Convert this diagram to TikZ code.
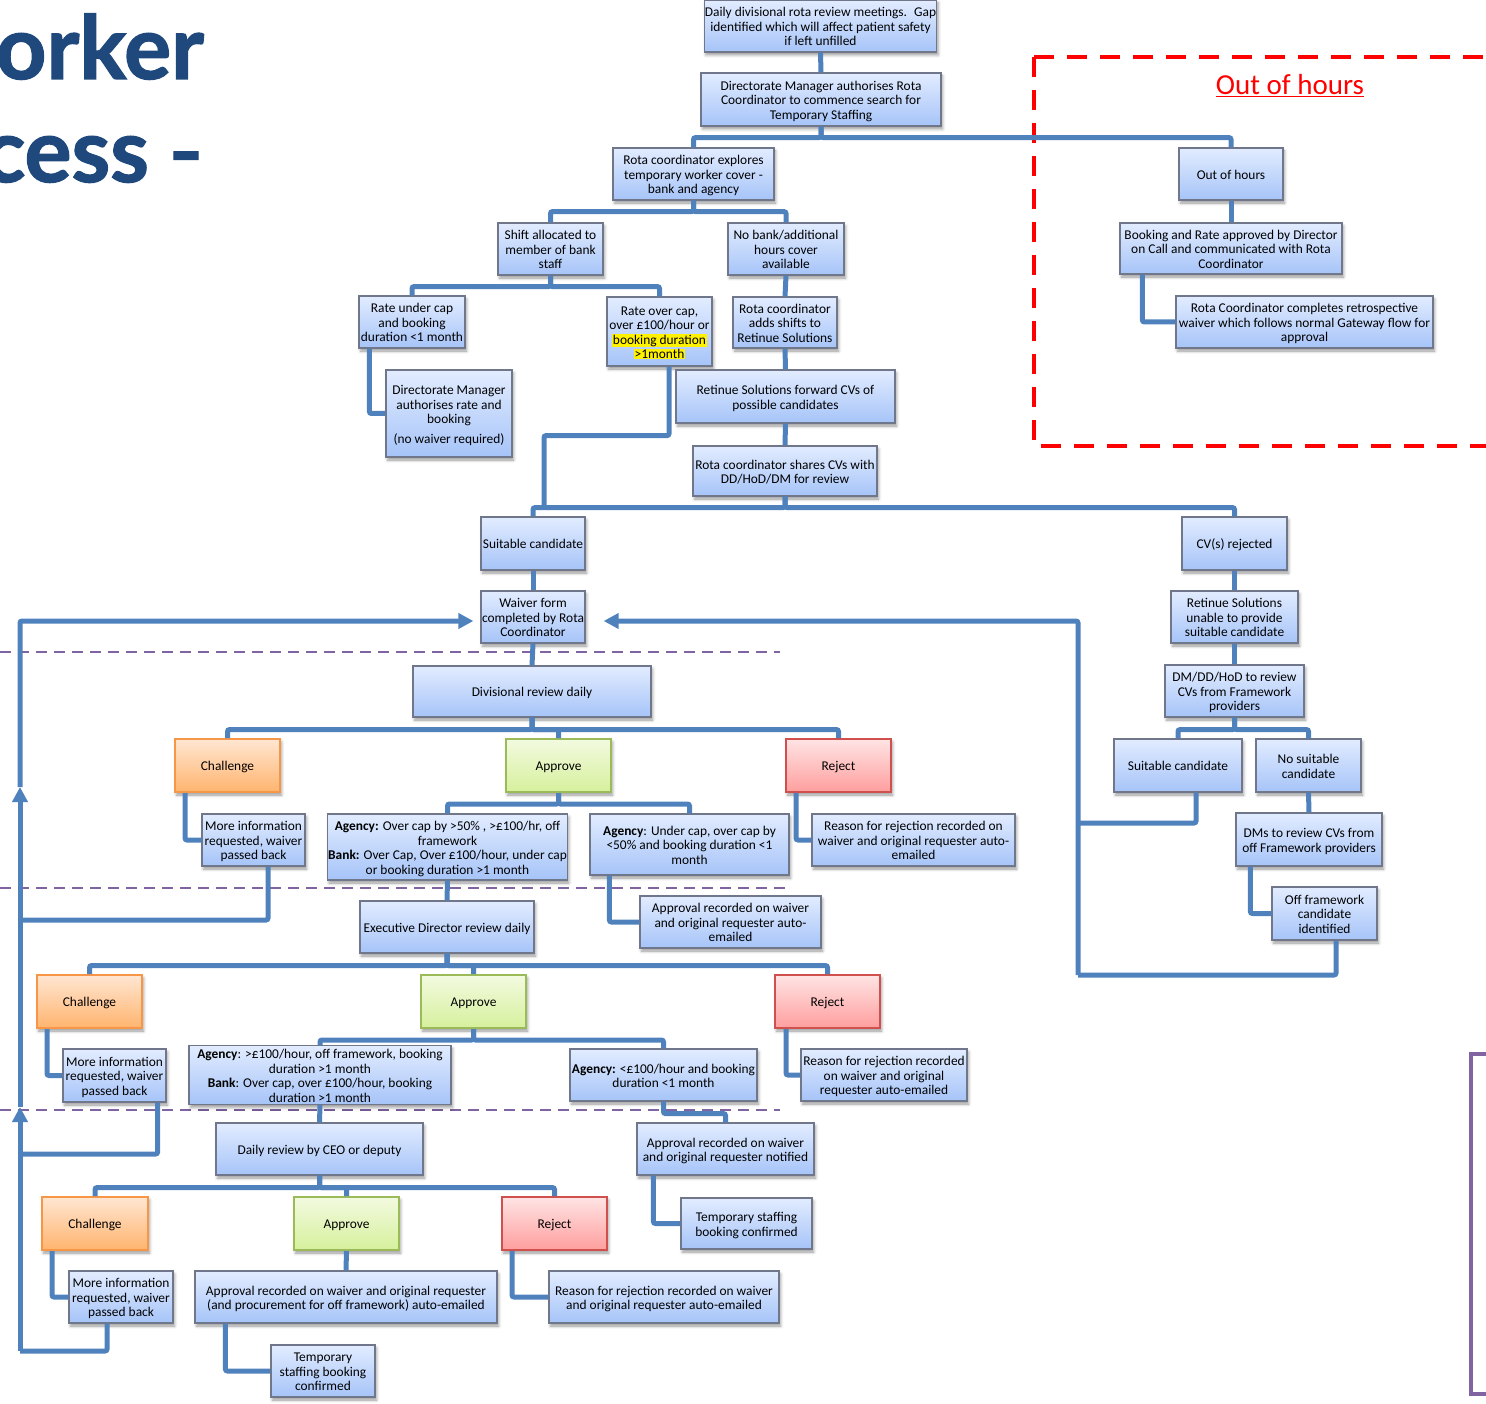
\documentclass[tikz,border=0pt]{standalone}
\usepackage{fontspec}
\setmainfont{Carlito}
\newfontfamily\titlefont[FakeBold=1.5]{Lato}
\usetikzlibrary{calc,shadows.blur,arrows.meta}
\definecolor{linkblue}{HTML}{4F81BD}
\definecolor{boxline}{HTML}{70778A}
\definecolor{btop}{HTML}{E2ECFF}
\definecolor{bbot}{HTML}{A6C4F8}
\definecolor{chline}{HTML}{F79646}
\definecolor{chtop}{HTML}{FFE6D2}
\definecolor{chbot}{HTML}{FFB46E}
\definecolor{apline}{HTML}{9BBB59}
\definecolor{aptop}{HTML}{F3FAE0}
\definecolor{apbot}{HTML}{D6F09C}
\definecolor{rjline}{HTML}{D0504D}
\definecolor{rjtop}{HTML}{FFE4E4}
\definecolor{rjbot}{HTML}{FF9E9E}
\definecolor{purpline}{HTML}{8064A2}
\definecolor{titleblue}{HTML}{1F497D}
\setlength{\fboxsep}{0.6pt}
\newcommand\hl[1]{\colorbox{yellow}{#1}}
\newcommand\mybox[7]{\node[#1, minimum width={(#5)-(#3)}, minimum height={(#6)-(#4)}] (#2) at ({((#3)+(#5))/2},{((#4)+(#6))/2}) {\raisebox{-2.5pt}[\height][\depth]{\begin{tabular}{@{}c@{}}#7\end{tabular}}};}
\tikzset{
  boxbase/.style={rectangle, inner sep=0.5pt,
    font=\fontsize{13.4}{14.5}\selectfont,
    blur shadow={shadow xshift=1.5pt, shadow yshift=-3pt, shadow blur radius=3pt, shadow opacity=40}},
  bluebox/.style={boxbase, draw=boxline, line width=1.2pt, top color=btop, bottom color=bbot},
  chbox/.style={boxbase, draw=chline, line width=2pt, top color=chtop, bottom color=chbot},
  apbox/.style={boxbase, draw=apline, line width=2pt, top color=aptop, bottom color=apbot},
  rjbox/.style={boxbase, draw=rjline, line width=2pt, top color=rjtop, bottom color=rjbot},
  link/.style={draw=linkblue, line width=5pt, rounded corners=2pt},
  arrowtip/.style={-{Triangle[length=15pt,width=15pt]}},
  purpdash/.style={draw=purpline, line width=2pt, dash pattern=on 11pt off 7pt},
  titletext/.style={inner sep=0, text=titleblue, font=\titlefont\bfseries\fontsize{88}{88}\selectfont},
}
\begin{document}
\begin{tikzpicture}[x=1pt,y=-1pt]
\useasboundingbox (0,0) rectangle (1486,1404);
% title fragments
\node[titletext, anchor=base east] (t1) at (204,79) {worker};
\node[titletext, anchor=base east] (t2) at (149,182) {process};
\node[titletext, anchor=base] (t3) at (186,182) {\scalebox{0.68}[1]{–}};
% dashed separators
\draw[purpdash] (0,652) -- (780,652);
\draw[purpdash] (0,888) -- (785,888);
\draw[purpdash] (0,1110) -- (780,1110);
% out of hours frame
\draw[red, line width=4pt, dash pattern=on 20pt off 13pt] (1034,57) -- (1520,57);
\draw[red, line width=4pt, dash pattern=on 20pt off 13pt] (1034,57) -- (1034,446) -- (1520,446);
\node[text=red, font=\fontsize{29}{30}\selectfont, inner sep=0] (oohtitle) at (1290,86) {\underline{Out of hours}};
% purple bracket
\draw[purpline, line width=4pt] (1500,1054) -- (1471,1054) -- (1471,1394) -- (1500,1394);

% boxes
\mybox{bluebox}{top}{705}{0}{936}{52}{Daily divisional rota review meetings.~ Gap\\identified which will affect patient safety\\if left unfilled}
\mybox{bluebox}{dmr}{701}{73}{941}{126}{Directorate Manager authorises Rota\\Coordinator to commence search for\\Temporary Staffing}
\mybox{bluebox}{expl}{613}{148}{774}{200}{Rota coordinator explores\\temporary worker cover -\\bank and agency}
\mybox{bluebox}{shift}{498}{223}{603}{275}{Shift allocated to\\member of bank\\staff}
\mybox{bluebox}{nobank}{728}{223}{844}{275}{No bank/additional\\hours cover\\available}
\mybox{bluebox}{rateunder}{359}{296}{465}{348}{Rate under cap\\and booking\\duration <1 month}
\mybox{bluebox}{rateover}{607}{297}{712}{366}{Rate over cap,\\over £100/hour or\\\hl{booking duration}\\\hl{>1month}}
\mybox{bluebox}{rcadds}{733}{297}{837}{348}{Rota coordinator\\adds shifts to\\Retinue Solutions}
\mybox{bluebox}{dmauth}{386}{370}{512}{457}{Directorate Manager\\authorises rate and\\booking\\[5pt](no waiver required)}
\mybox{bluebox}{retfwd}{676}{370}{895}{423}{Retinue Solutions forward CVs of\\possible candidates}
\mybox{bluebox}{shares}{693}{446}{877}{496}{Rota coordinator shares CVs with\\DD/HoD/DM for review}
\mybox{bluebox}{suit}{481}{517}{585}{570}{Suitable candidate}
\mybox{bluebox}{cvrej}{1182}{517}{1287}{570}{CV(s) rejected}
\mybox{bluebox}{waiver}{481}{591}{585}{643}{Waiver form\\completed by Rota\\Coordinator}
\mybox{bluebox}{divrev}{413}{666}{651}{717}{Divisional review daily}
\mybox{chbox}{ch1}{175}{739}{280}{792}{Challenge}
\mybox{apbox}{ap1}{506}{739}{611}{792}{Approve}
\mybox{rjbox}{rj1}{786}{739}{891}{792}{Reject}
\mybox{bluebox}{mi1}{202}{814}{305}{866}{More information\\requested, waiver\\passed back}
\mybox{bluebox}{agov1}{328}{814}{567}{880}{\textbf{Agency:} Over cap by >50\% , >£100/hr, off\\framework\\\textbf{Bank:} Over Cap, Over £100/hour, under cap\\or booking duration >1 month}
\mybox{bluebox}{agun1}{590}{814}{789}{875}{\textbf{Agency}: Under cap, over cap by\\<50\% and booking duration <1\\month}
\mybox{bluebox}{rr1}{812}{814}{1015}{866}{Reason for rejection recorded on\\waiver and original requester auto-\\emailed}
\mybox{bluebox}{apr1}{640}{896}{821}{948}{Approval recorded on waiver\\and original requester auto-\\emailed}
\mybox{bluebox}{edr}{360}{901}{534}{953}{Executive Director review daily}
\mybox{chbox}{ch2}{37}{975}{142}{1028}{Challenge}
\mybox{apbox}{ap2}{421}{975}{526}{1028}{Approve}
\mybox{rjbox}{rj2}{775}{975}{880}{1028}{Reject}
\mybox{bluebox}{mi2}{63}{1049}{166}{1102}{More information\\requested, waiver\\passed back}
\mybox{bluebox}{ag2a}{189}{1049}{451}{1101}{\textbf{Agency}: >£100/hour, off framework, booking\\duration >1 month\\\textbf{Bank}: Over cap, over £100/hour, booking\\duration >1 month}
\mybox{bluebox}{ag2b}{570}{1049}{757}{1101}{\textbf{Agency:} <£100/hour and booking\\duration <1 month}
\mybox{bluebox}{rr2}{801}{1049}{967}{1101}{Reason for rejection recorded\\on waiver and original\\requester auto-emailed}
\mybox{bluebox}{apr2}{637}{1123}{814}{1175}{Approval recorded on waiver\\and original requester notified}
\mybox{bluebox}{ceo}{216}{1123}{423}{1175}{Daily review by CEO or deputy}
\mybox{bluebox}{tsb2}{681}{1198}{812}{1249}{Temporary staffing\\booking confirmed}
\mybox{chbox}{ch3}{42}{1197}{148}{1250}{Challenge}
\mybox{apbox}{ap3}{294}{1197}{399}{1250}{Approve}
\mybox{rjbox}{rj3}{502}{1197}{607}{1250}{Reject}
\mybox{bluebox}{mi3}{69}{1271}{173}{1323}{More information\\requested, waiver\\passed back}
\mybox{bluebox}{apr3}{195}{1271}{497}{1323}{Approval recorded on waiver and original requester\\(and procurement for off framework) auto-emailed}
\mybox{bluebox}{rr3}{549}{1271}{779}{1323}{Reason for rejection recorded on waiver\\and original requester auto-emailed}
\mybox{bluebox}{tsb3}{271}{1345}{375}{1397}{Temporary\\staffing booking\\confirmed}
% right column
\mybox{bluebox}{ooh}{1179}{148}{1283}{200}{Out of hours}
\mybox{bluebox}{bor}{1120}{223}{1342}{274}{Booking and Rate approved by Director\\on Call and communicated with Rota\\Coordinator}
\mybox{bluebox}{rcret}{1176}{296}{1433}{348}{Rota Coordinator completes retrospective\\waiver which follows normal Gateway flow for\\approval}
\mybox{bluebox}{unable}{1171}{591}{1298}{643}{Retinue Solutions\\unable to provide\\suitable candidate}
\mybox{bluebox}{dmdd}{1165}{665}{1304}{717}{DM/DD/HoD to review\\CVs from Framework\\providers}
\mybox{bluebox}{suit2}{1114}{739}{1242}{792}{Suitable candidate}
\mybox{bluebox}{nosuit}{1256}{739}{1361}{792}{No suitable\\candidate}
\mybox{bluebox}{dms}{1236}{813}{1382}{866}{DMs to review CVs from\\off Framework providers}
\mybox{bluebox}{offfw}{1272}{887}{1377}{940}{Off framework\\candidate\\identified}

% free-end coordinates
\coordinate (j1) at (544,507);
\coordinate (L1) at (20,920);
\coordinate (L2) at (20,1154);
\coordinate (L3) at (20,1351);
\coordinate (A1) at (20,787);
\coordinate (A2) at (20,1107);
\coordinate (R1) at (1078,975);
\coordinate (R2) at (1078,823);

% connectors
\draw[link] (top.south) -- (dmr.north);
\draw[link] (dmr.south) -- ++(0,11) -| (expl.north);
\draw[link] (dmr.south) -- ++(0,11) -| (ooh.north);
\draw[link] (expl.south) -- ++(0,11) -| (shift.north);
\draw[link] (expl.south) -- ++(0,11) -| (nobank.north);
\draw[link] (shift.south) -- ++(0,11) -| (rateunder.north);
\draw[link] (shift.south) -- ++(0,11) -| (rateover.north);
\draw[link] ($(rateunder.south west)+(11,0)$) |- (dmauth.west);
\draw[link] (nobank.south) -- (rcadds.north);
\draw[link] (rcadds.south) -- (retfwd.north);
\draw[link] (retfwd.south) -- (shares.north);
\draw[link] ($(rateover.south)+(9.5,0)$) -- ++(0,69) -| (j1);
\draw[link] (shares.south) -- ++(0,11) -| (suit.north);
\draw[link] (shares.south) -- ++(0,11) -| (cvrej.north);
\draw[link] (suit.south) -- (waiver.north);
\draw[link] (waiver.south) -- (divrev.north);
\draw[link] (divrev.south) -- ++(0,12) -| (ch1.north);
\draw[link] (divrev.south) -- ++(0,12) -| (ap1.north);
\draw[link] (divrev.south) -- ++(0,12) -| (rj1.north);
\draw[link] ($(ch1.south west)+(11,0)$) |- (mi1.west);
\draw[link] (ap1.south) -- ++(0,11) -| (agov1.north);
\draw[link] (ap1.south) -- ++(0,11) -| (agun1.north);
\draw[link] ($(agun1.south west)+(20,0)$) |- (apr1.west);
\draw[link] ($(rj1.south west)+(11,0)$) |- (rr1.west);
\draw[link] (agov1.south) -- (edr.north);
\draw[link] (edr.south) -- ++(0,12) -| (ch2.north);
\draw[link] (edr.south) -- ++(0,12) -| (ap2.north);
\draw[link] (edr.south) -- ++(0,12) -| (rj2.north);
\draw[link] ($(ch2.south west)+(11,0)$) |- (mi2.west);
\draw[link] (ap2.south) -- ++(0,11) -| (ag2a.north);
\draw[link] (ap2.south) -- ++(0,11) -| (ag2b.north);
\draw[link] (ag2b.south) -- ++(0,12) -| (apr2.north);
\draw[link] ($(apr2.south west)+(17,0)$) |- (tsb2.west);
\draw[link] ($(rj2.south west)+(12,0)$) |- (rr2.west);
\draw[link] (ag2a.south) -- (ceo.north);
\draw[link] (ceo.south) -- ++(0,12) -| (ch3.north);
\draw[link] (ceo.south) -- ++(0,12) -| (ap3.north);
\draw[link] (ceo.south) -- ++(0,12) -| (rj3.north);
\draw[link] ($(ch3.south west)+(11,0)$) |- (mi3.west);
\draw[link] (ap3.south) -- (apr3.north);
\draw[link] ($(apr3.south west)+(31,0)$) |- (tsb3.west);
\draw[link] ($(rj3.south west)+(11,0)$) |- (rr3.west);
% out of hours chain
\draw[link] (ooh.south) -- (bor.north);
\draw[link] ($(bor.south west)+(23,0)$) |- (rcret.west);
% CV rejected chain
\draw[link] (cvrej.south) -- (unable.north);
\draw[link] (unable.south) -- (dmdd.north);
\draw[link] (dmdd.south) -- ++(0,12) -| (suit2.north);
\draw[link] (dmdd.south) -- ++(0,12) -| (nosuit.north);
\draw[link] (nosuit.south) -- (dms.north);
\draw[link] ($(dms.south west)+(15,0)$) |- (offfw.west);
% return loops
\draw[link] ($(offfw.south)+(11.5,0)$) |- (R1);
\draw[link] ($(suit2.south)+(18,0)$) |- (R2);
\draw[link, arrowtip] (R1) |- ($(waiver.east)+(18,4)$);
\draw[link] ($(mi1.south)+(14.5,0)$) |- (L1);
\draw[link] ($(mi2.south east)+(-9,0)$) |- (L2);
\draw[link] ($(mi3.south)+(-14,0)$) |- (L3);
\draw[link, arrowtip] (L3) -- (A2);
\draw[link, arrowtip] (A2) -- (A1);
\draw[link, arrowtip] (A1) |- ($(waiver.west)+(-7,4)$);
\end{tikzpicture}
\end{document}
